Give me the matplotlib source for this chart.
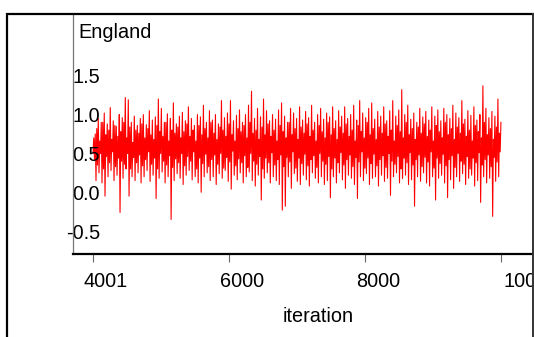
import numpy as np
import matplotlib
matplotlib.use("Agg")
import matplotlib.pyplot as plt
from matplotlib.lines import Line2D
import matplotlib.transforms as mtransforms

# ---- data ----
title = "England"
x_label = "iteration"
first_iter = 4001
last_iter = 10000
xtick_values = [4001, 6000, 8000, 10000]
ytick_values = [-0.5, 0.0, 0.5, 1.0, 1.5]

# local maxima of the trace (one per ~44 iterations)
highs = [0.75, 0.95, 0.9, 1.02, 0.88, 1.09, 0.92, 0.85, 1.0, 0.96,
         1.22, 1.19, 0.9, 0.98, 0.86, 0.95, 1.0, 0.87, 1.05, 0.93,
         0.97, 1.2, 1.08, 0.9, 1.01, 0.95, 1.15, 0.88, 0.98, 1.03,
         0.92, 1.1, 0.95, 0.86, 1.0, 0.97, 1.12, 0.9, 1.05, 0.93,
         1.0, 0.88, 1.18, 0.96, 1.02, 1.18, 0.92, 0.99, 1.06, 0.9,
         1.0, 1.12, 1.3, 0.95, 1.08, 0.97, 1.2, 1.05, 0.92, 1.0,
         0.94, 1.06, 1.15, 0.98, 0.9, 1.08, 1.02, 0.95, 1.1, 0.93,
         1.04, 0.96, 1.12, 0.9, 1.0, 1.08, 0.94, 1.02, 0.97, 1.1,
         0.92, 1.05, 0.98, 1.1, 0.95, 1.0, 1.12, 0.93, 1.18, 1.02,
         0.96, 1.08, 1.15, 0.94, 1.04, 0.98, 1.1, 0.92, 1.05, 1.18,
         0.98, 1.06, 1.32, 1.0, 1.12, 0.94, 1.02, 0.9, 1.08, 0.97,
         1.04, 0.93, 1.1, 0.98, 1.06, 0.92, 1.08, 1.0, 0.95, 1.12,
         1.02, 0.96, 1.18, 0.94, 1.05, 0.99, 1.1, 0.93, 1.0, 1.37,
         1.08, 0.96, 1.04, 0.98, 1.2, 0.9]

# local minima of the trace
lows = [0.5, 0.15, 0.25, 0.12, -0.05, 0.2, 0.28, 0.15, 0.22, -0.26,
        0.18, 0.3, -0.05, 0.2, 0.15, 0.25, 0.12, 0.2, 0.28, 0.14,
        0.22, -0.08, 0.18, 0.26, 0.12, 0.2, -0.35, 0.15, 0.24, 0.18,
        0.1, 0.22, 0.28, 0.16, 0.2, 0.12, 0.0, 0.2, 0.25, 0.15,
        0.2, 0.1, 0.24, 0.18, 0.28, 0.14, 0.04, 0.22, 0.16, 0.25,
        0.12, 0.2, 0.26, 0.15, 0.08, 0.22, -0.1, 0.18, 0.25, 0.12,
        0.2, 0.15, 0.1, -0.23, -0.18, 0.2, 0.05, 0.24, 0.14, 0.1,
        0.22, 0.16, 0.08, 0.25, 0.18, 0.12, 0.2, 0.1, 0.15, -0.07,
        0.2, 0.12, 0.25, 0.16, 0.05, 0.22, 0.18, 0.1, -0.08, 0.2,
        0.15, 0.24, 0.1, 0.18, 0.2, 0.08, 0.22, 0.14, 0.18, -0.04,
        0.2, 0.25, 0.12, 0.18, 0.22, 0.1, 0.16, -0.18, 0.2, 0.14,
        0.25, 0.12, 0.08, 0.2, -0.1, 0.18, 0.22, 0.12, -0.07, 0.16,
        0.05, 0.2, 0.14, 0.24, 0.1, 0.18, 0.22, 0.08, 0.15, -0.13,
        0.2, 0.12, 0.18, -0.31, 0.14, 0.2]

# smaller swings inside the dense core of the trace
inner_highs = [0.7, 0.82, 0.66, 0.9, 0.74, 0.8, 0.68, 0.86, 0.72, 0.78,
               0.9, 0.7, 0.84, 0.64, 0.8, 0.76, 0.88, 0.7, 0.82, 0.74,
               0.68, 0.86, 0.78, 0.72, 0.9, 0.66, 0.8, 0.76, 0.84, 0.7,
               0.78, 0.88, 0.72, 0.8, 0.66, 0.86, 0.74, 0.82, 0.7, 0.9,
               0.76, 0.68, 0.84, 0.8, 0.72, 0.88, 0.74, 0.66, 0.82, 0.78,
               0.86, 0.7, 0.9, 0.76, 0.8, 0.68, 0.84, 0.74, 0.88, 0.72,
               0.8, 0.66, 0.86, 0.78, 0.7, 0.9, 0.74, 0.82, 0.68, 0.84,
               0.76, 0.88, 0.72, 0.8, 0.66, 0.86, 0.78, 0.7, 0.9, 0.74,
               0.82, 0.68, 0.84, 0.76, 0.88, 0.72, 0.8, 0.66, 0.86, 0.78,
               0.7, 0.9, 0.74, 0.82, 0.68, 0.84, 0.76, 0.88, 0.72, 0.8,
               0.66, 0.86, 0.78, 0.7, 0.9, 0.74, 0.82, 0.68, 0.84, 0.76,
               0.88, 0.72, 0.8, 0.66, 0.86, 0.78, 0.7, 0.9, 0.74, 0.82,
               0.68, 0.84, 0.76, 0.88, 0.72, 0.8, 0.66, 0.86, 0.78, 0.7,
               0.9, 0.74, 0.82, 0.68, 0.84, 0.76]

inner_lows = [0.42, 0.35, 0.5, 0.3, 0.46, 0.38, 0.52, 0.33, 0.44, 0.4,
              0.36, 0.5, 0.3, 0.45, 0.38, 0.48, 0.34, 0.42, 0.52, 0.36,
              0.44, 0.3, 0.5, 0.4, 0.35, 0.47, 0.32, 0.43, 0.38, 0.5,
              0.34, 0.46, 0.4, 0.52, 0.3, 0.44, 0.37, 0.49, 0.33, 0.42,
              0.48, 0.36, 0.5, 0.31, 0.45, 0.39, 0.53, 0.34, 0.43, 0.38,
              0.47, 0.32, 0.5, 0.4, 0.36, 0.46, 0.3, 0.44, 0.38, 0.51,
              0.35, 0.42, 0.48, 0.33, 0.45, 0.39, 0.52, 0.31, 0.44, 0.37,
              0.49, 0.34, 0.42, 0.47, 0.32, 0.5, 0.4, 0.36, 0.46, 0.3,
              0.44, 0.38, 0.51, 0.35, 0.42, 0.48, 0.33, 0.45, 0.39, 0.52,
              0.31, 0.44, 0.37, 0.49, 0.34, 0.42, 0.47, 0.32, 0.5, 0.4,
              0.36, 0.46, 0.3, 0.44, 0.38, 0.51, 0.35, 0.42, 0.48, 0.33,
              0.45, 0.39, 0.52, 0.31, 0.44, 0.37, 0.49, 0.34, 0.42, 0.47,
              0.32, 0.5, 0.4, 0.36, 0.46, 0.3, 0.44, 0.38, 0.51, 0.35,
              0.42, 0.48, 0.33, 0.45, 0.39, 0.52]

# interleave into one trace: low, inner high, inner low, high per window
n = len(highs)
values = np.empty(4 * n)
values[0::4] = lows
values[1::4] = inner_highs
values[2::4] = inner_lows
values[3::4] = highs
iterations = np.linspace(first_iter, last_iter, len(values))

# ---- figure ----
W, H = 534, 337
plt.rcParams['font.family'] = ['Liberation Sans', 'DejaVu Sans']
fig = plt.figure(figsize=(W / 100, H / 100), dpi=100)

ax_left, ax_right, ax_top, ax_bot = 73, 532, 14, 254
ax = fig.add_axes([ax_left / W, 1 - ax_bot / H,
                   (ax_right - ax_left) / W, (ax_bot - ax_top) / H])

ax.plot(iterations, values, color='#ff0000', lw=0.8, zorder=1)

ax.set_xlim(3707, 10457)
ax.set_ylim(-0.795, 2.295)

ax.set_xticks(xtick_values)
ax.set_xticklabels([str(v) for v in xtick_values])
ax.set_yticks(ytick_values)
ax.set_yticklabels([f"{v:.1f}" for v in ytick_values])

ax.tick_params(axis='x', length=6, width=0.8, color='#666666',
               labelsize=14.3, pad=7.3)
ax.tick_params(axis='y', length=0, labelsize=14.3, pad=-19.5)

# x tick labels sit to the right of their ticks in the reference;
# the last one is pushed against the frame and cut by it
labels = ax.get_xticklabels()
for i, lab in enumerate(labels):
    dx = 13 if i < len(labels) - 1 else 30
    off = mtransforms.ScaledTranslation(dx / 100, 0, fig.dpi_scale_trans)
    lab.set_transform(lab.get_transform() + off)

for s in ['top', 'right']:
    ax.spines[s].set_visible(False)
ax.spines['left'].set_color('#777777')
ax.spines['left'].set_linewidth(0.9)
ax.spines['bottom'].set_color('black')
ax.spines['bottom'].set_linewidth(1.6)

ax.text(0.011, 0.962, title, transform=ax.transAxes, fontsize=14.3,
        ha='left', va='top')

ax.set_xlabel(x_label, fontsize=14.3)
ax.xaxis.set_label_coords((318 - ax_left) / (ax_right - ax_left), -0.22)

# outer frame
def fline(x0, y0, x1, y1, lw, color='black'):
    fig.add_artist(Line2D([x0 / W, x1 / W], [1 - y0 / H, 1 - y1 / H],
                          transform=fig.transFigure, color=color, lw=lw,
                          solid_capstyle='butt', zorder=10))

fline(7, 13, 7, H, 1.6)
fline(6, 13.5, 534, 13.5, 1.6)
fline(532.5, 13, 532.5, H, 1.4, '#333333')
# area beyond the right frame line is blank in the reference
fig.add_artist(plt.Rectangle((533.2 / W, 0), 1 - 533.2 / W, 1,
                             transform=fig.transFigure, facecolor='white',
                             edgecolor='none', zorder=9))

fig.savefig("out.png", dpi=100)
